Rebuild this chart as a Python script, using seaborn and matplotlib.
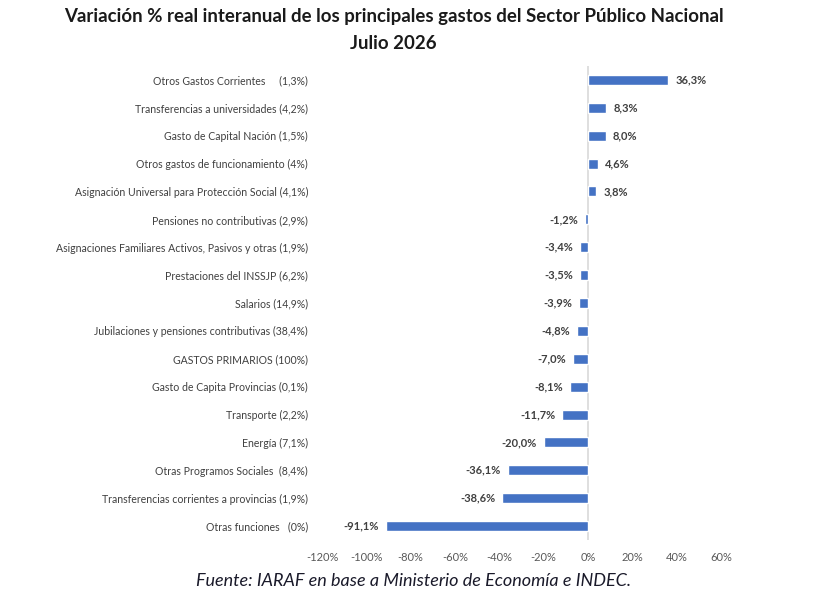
import matplotlib
matplotlib.use("Agg")
import matplotlib.pyplot as plt
import seaborn as sns
import pandas as pd

categories = [
    "Otros Gastos Corrientes     (1,3%)",
    "Transferencias a universidades (4,2%)",
    "Gasto de Capital Nación (1,5%)",
    "Otros gastos de funcionamiento (4%)",
    "Asignación Universal para Protección Social (4,1%)",
    "Pensiones no contributivas (2,9%)",
    "Asignaciones Familiares Activos, Pasivos y otras (1,9%)",
    "Prestaciones del INSSJP (6,2%)",
    "Salarios (14,9%)",
    "Jubilaciones y pensiones contributivas (38,4%)",
    "GASTOS PRIMARIOS (100%)",
    "Gasto de Capita Provincias (0,1%)",
    "Transporte (2,2%)",
    "Energía (7,1%)",
    "Otras Programos Sociales  (8,4%)",
    "Transferencias corrientes a provincias (1,9%)",
    "Otras funciones   (0%)",
]
values = [36.3, 8.3, 8.0, 4.6, 3.8, -1.2, -3.4, -3.5, -3.9, -4.8, -7.0, -8.1,
          -11.7, -20.0, -36.1, -38.6, -91.1]
xticks = [-120, -100, -80, -60, -40, -20, 0, 20, 40, 60]

df = pd.DataFrame({"cat": categories, "val": values})

sns.set_theme(style="white")
plt.rcParams["font.family"] = ["Lato", "DejaVu Sans"]

fig = plt.figure(figsize=(8.15, 5.99), dpi=100)
ax = fig.add_axes([0.3951, 0.0985, 0.4896, 0.7913])

sns.barplot(data=df, x="val", y="cat", color="#4472C4", saturation=1,
            width=0.36, ax=ax, orient="h")

ax.set_xlim(-120, 60)
ax.set_xticks(xticks)
ax.set_xticklabels([f"{t}%" for t in xticks])
ax.set_xlabel("")
ax.set_ylabel("")
for s in ax.spines.values():
    s.set_visible(False)
ax.axvline(0, color="#D9D9D9", lw=1.2, zorder=0)
ax.tick_params(axis="x", length=0, pad=9, labelsize=8, labelcolor="#595959")
ax.tick_params(axis="y", length=0, pad=10, labelsize=7.6, labelcolor="#404040")

for i, v in enumerate(values):
    lab = f"{v:.1f}%".replace(".", ",")
    if v >= 0:
        ax.annotate(lab, (v, i), xytext=(5, 0), textcoords="offset points",
                    ha="left", va="center", fontsize=8, fontweight="bold",
                    color="#404040")
    else:
        ax.annotate(lab, (v, i), xytext=(-5, 0), textcoords="offset points",
                    ha="right", va="center", fontsize=8, fontweight="bold",
                    color="#404040")

fig.text(0.483, 0.972, "Variación % real interanual de los principales gastos del Sector Público Nacional",
         ha="center", va="center", fontsize=13.4, fontweight="bold", color="#1a1a1a")
fig.text(0.483, 0.928, "Julio 2026", ha="center", va="center", fontsize=13.4,
         fontweight="bold", color="#1a1a1a")
fig.text(0.507, 0.030, "Fuente: IARAF en base a Ministerio de Economía e INDEC.",
         ha="center", va="center", fontsize=13, style="italic", color="#1a1a2a")

fig.savefig("out.png", dpi=100)
